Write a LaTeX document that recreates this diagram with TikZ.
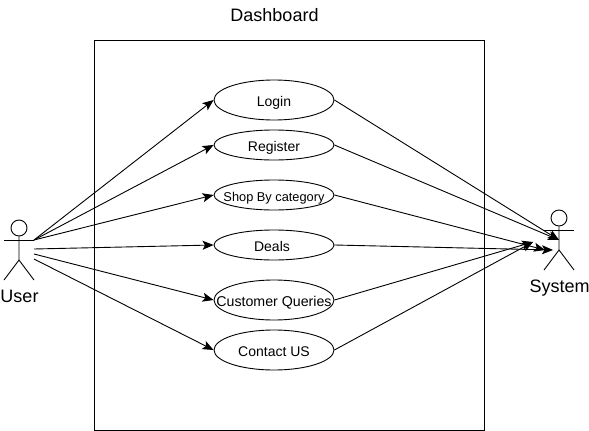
\documentclass[tikz,border=0pt]{standalone}
\usepackage{fontspec}
\setmainfont{Liberation Sans}
\usetikzlibrary{arrows.meta,shapes.geometric}
\newcommand{\casetext}[1]{\makebox[0pt]{#1}}
\tikzset{
    usecase/.style={shape=ellipse,draw=black,line width=0.9pt,inner sep=0pt,minimum width=120pt,text height=12pt,text depth=0pt,font=\fontsize{14}{16}\selectfont},
    actorline/.style={draw=black,line width=0.9pt},
    link/.style={->,line width=0.9pt},
    bigtext/.style={font=\fontsize{18}{20}\selectfont,inner sep=0pt}
}
\begin{document}
\begin{tikzpicture}[x=1pt,y=-1pt,>={Stealth[length=11pt,width=9pt,inset=2.5pt]}]
    \useasboundingbox (0,0) rectangle (589,431);
    \node[bigtext] (title) at (274.5,15) {Dashboard};
    \node[shape=rectangle,draw=black,line width=0.9pt,minimum width=389.5pt,minimum height=389.5pt,inner sep=0pt] (board) at (289.3,235.2) {};
    \node[usecase,minimum height=40pt] (login) at (274,100) {\casetext{Login}};
    \node[usecase,minimum height=30pt] (register) at (274,145) {\casetext{Register}};
    \node[usecase,minimum height=30pt,font=\fontsize{12.8}{15}\selectfont] (shop) at (274,195) {\casetext{Shop By category}};
    \node[usecase,minimum height=30pt] (deals) at (274,245) {\casetext{Deals\hspace{4pt}}};
    \node[usecase,minimum height=40pt,font=\fontsize{14.2}{17}\selectfont] (queries) at (274,300) {\casetext{Customer Queries}};
    \node[usecase,minimum height=40pt] (contact) at (274,350) {\casetext{Contact US}};
    % user
    \node[shape=circle,actorline,minimum size=16pt,inner sep=0pt] (userhead) at (19,228) {};
    \draw[actorline] (userhead.south) -- (19,260) -- (4,280);
    \draw[actorline] (19,260) -- (34,280);
    \draw[actorline] (4,240) -- (34,240);
    \node[bigtext] (user) at (19.5,296.5) {User};
    % system
    \node[shape=circle,actorline,minimum size=16pt,inner sep=0pt] (syshead) at (559,218) {};
    \draw[actorline] (syshead.south) -- (559,250) -- (544,270);
    \draw[actorline] (559,250) -- (574,270);
    \draw[actorline] (544,230) -- (574,230);
    \node[bigtext] (system) at (559.5,288) {System};
    % ends of the links
    \coordinate (u1) at (34,240);
    \coordinate (u2) at (34,249);
    \coordinate (u3) at (34,254);
    \coordinate (u4) at (34,259);
    \coordinate (s1) at (559,240);
    \coordinate (s2) at (545,250);
    \coordinate (s3) at (553,250);
    \coordinate (s4) at (533,242);
    \path[link](u1) edge (login.west);
    \path[link](u1) edge (register.west);
    \path[link](u1) edge (shop.west);
    \path[link](u2) edge (deals.west);
    \path[link](u3) edge (queries.west);
    \path[link](u4) edge (contact.west);
    \path[link](login.east) edge (s1);
    \path[link](register.east) edge (s1);
    \path[link](shop.east) edge (s2);
    \path[link](deals.east) edge (s3);
    \path[link](queries.east) edge (s4);
    \path[link](contact.east) edge (s4);
\end{tikzpicture}
\end{document}
